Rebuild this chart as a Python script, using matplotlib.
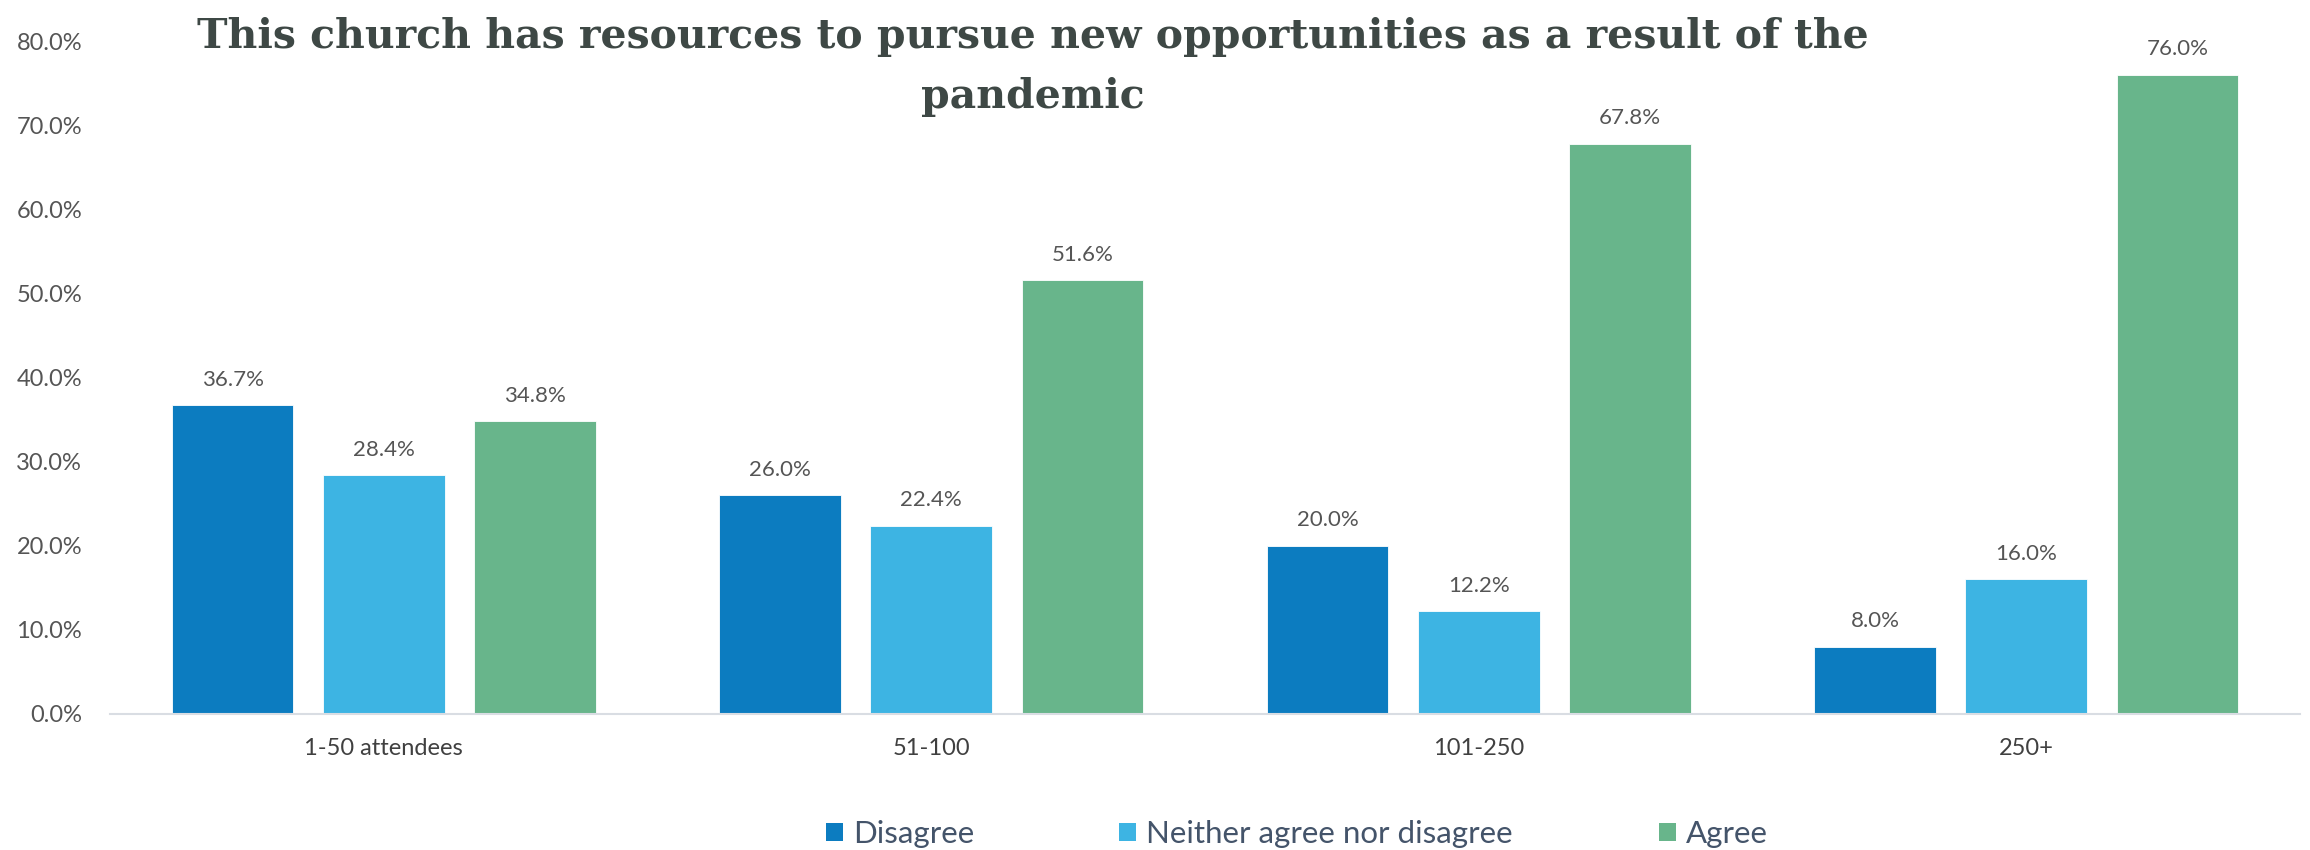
import matplotlib
matplotlib.use("Agg")
from matplotlib import pyplot as plt
from matplotlib.patches import Patch
import numpy as np

plt.rcParams["font.family"] = ["Lato", "DejaVu Sans"]

categories = ["1-50 attendees", "51-100", "101-250", "250+"]
series = ["Disagree", "Neither agree nor disagree", "Agree"]
disagree = [36.7, 26.0, 20.0, 8.0]
neither = [28.4, 22.4, 12.2, 16.0]
agree = [34.8, 51.6, 67.8, 76.0]
colors = ["#0c7cc0", "#3db4e3", "#68b58b"]

title_lines = ["This church has resources to pursue new opportunities as a result of the",
               "pandemic"]

fig = plt.figure(figsize=(23.1, 8.5), dpi=100)
ax = fig.add_axes([110 / 2310, 1 - 714 / 850, 2190 / 2310, 673 / 850])

x = np.arange(len(categories))
width = 0.222
pitch = 0.276
for i, (vals, c, name) in enumerate(zip([disagree, neither, agree], colors, series)):
    bars = ax.bar(x + (i - 1) * pitch, np.array(vals) / 100, width, color=c,
                  edgecolor="white", linewidth=0.6, label=name)
    for b, v in zip(bars, vals):
        ax.annotate(f"{v:.1f}%", (b.get_x() + b.get_width() / 2, b.get_height()),
                    xytext=(0, 11), textcoords="offset points", ha="center",
                    va="bottom", fontsize=16, color="#555555")

ax.set_xlim(-0.5, len(categories) - 0.5)
ax.set_ylim(0, 0.8)
ax.set_yticks(np.arange(0, 0.81, 0.1))
ax.set_yticklabels([f"{t * 100:.1f}%" for t in np.arange(0, 0.81, 0.1)])
ax.set_xticks(x)
ax.set_xticklabels(categories)
ax.tick_params(axis="y", length=0, pad=20, labelsize=17, labelcolor="#555555")
ax.tick_params(axis="x", length=0, pad=17, labelsize=17, labelcolor="#404040")
for s in ["top", "right", "left"]:
    ax.spines[s].set_visible(False)
ax.spines["bottom"].set_color("#d9dde3")
ax.spines["bottom"].set_linewidth(1.5)

# two separate lines so the title box stays clear of the 67.8% label
for ty, line in zip([1 - 37 / 850, 1 - 97 / 850], title_lines):
    fig.text(0.447, ty, line, ha="center", va="center", fontsize=29.5,
             fontweight="bold", family="DejaVu Serif", color="#3e4845")

# legend entries placed one by one, spacing in the original is uneven
legend_x = [826, 1119, 1659]
for c, name, lx in zip(colors, series, legend_x):
    fig.legend([Patch(facecolor=c, edgecolor="none")], [name], loc="center left",
               bbox_to_anchor=(lx / 2310, 1 - 834 / 850), frameon=False,
               fontsize=22.5, labelcolor="#44546a", handlelength=0.54,
               handleheight=0.52, handletextpad=0.32, borderpad=0,
               borderaxespad=0)

fig.savefig("out.png", dpi=100)
